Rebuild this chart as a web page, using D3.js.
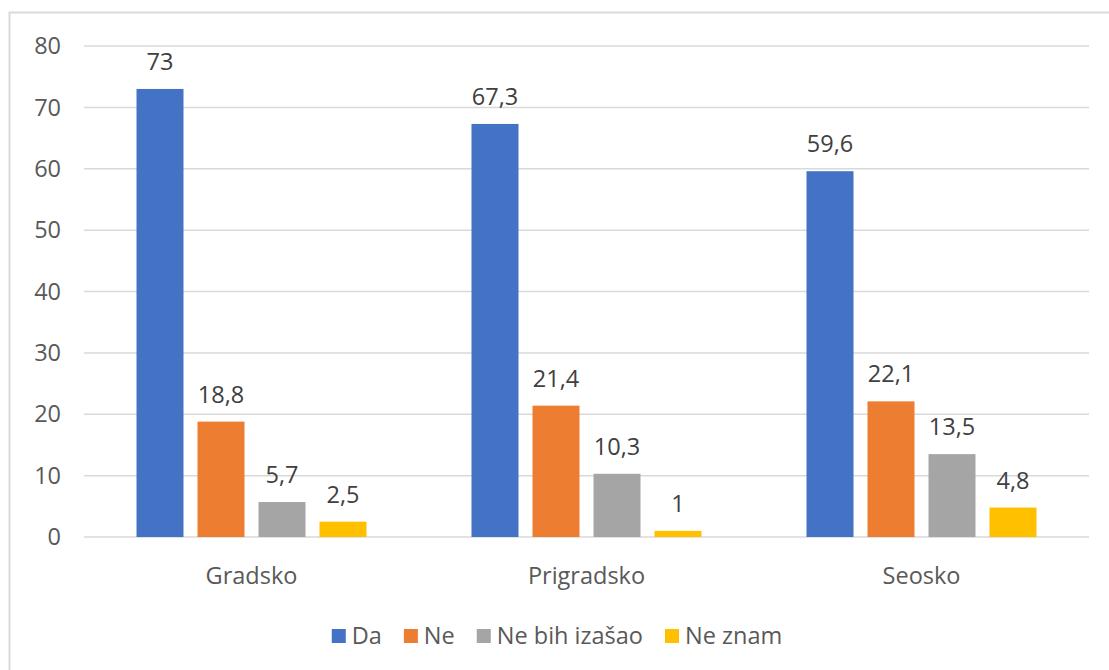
<!DOCTYPE html>
<html>
<head>
<meta charset="utf-8">
<script src="https://cdn.jsdelivr.net/npm/d3@7"></script>
<style>
  html, body { margin: 0; padding: 0; background: #fff; }
  svg { display: block; font-family: "Open Sans", "Noto Sans", sans-serif; }
</style>
</head>
<body>
<div id="chart"></div>
<script>
// Grouped bars: answers by settlement type (values in %).

const categories = ["Gradsko", "Prigradsko", "Seosko"];
const series = ["Da", "Ne", "Ne bih izašao", "Ne znam"];
const da = [73, 67.3, 59.6];
const ne = [18.8, 21.4, 22.1];
const neBih = [5.7, 10.3, 13.5];
const neZnam = [2.5, 1, 4.8];
const yTicks = [0, 10, 20, 30, 40, 50, 60, 70, 80];

const COLORS = ["#4472C4", "#ED7D31", "#A5A5A5", "#FFC000"];
const W = 1109, H = 670;
const PLOT = { left: 84, right: 1089, top: 46, bottom: 537 };
const FONT = "23.5px";

const values = [da, ne, neBih, neZnam];
const rows = categories.map((cat, i) => ({
  cat,
  vals: series.map((s, j) => ({ s, j, v: values[j][i] }))
}));

const svg = d3.select("#chart").append("svg")
  .attr("width", W).attr("height", H);

// outer chart frame (extends beyond the page on right/bottom)
svg.append("rect")
  .attr("x", 9.5).attr("y", 12.5)
  .attr("width", 1200).attr("height", 700)
  .attr("fill", "#fff")
  .attr("stroke", "#d9d9d9").attr("stroke-width", 2);

const y = d3.scaleLinear().domain([0, 80]).range([PLOT.bottom, PLOT.top]);
const x0 = d3.scaleBand().domain(categories).range([PLOT.left, PLOT.right]);
const groupW = 230;
const x1 = d3.scaleBand().domain(series)
  .range([(x0.bandwidth() - groupW) / 2, (x0.bandwidth() + groupW) / 2])
  .paddingInner(14 / 61);

// gridlines
svg.append("g").selectAll("line")
  .data(yTicks)
  .join("line")
  .attr("x1", PLOT.left).attr("x2", PLOT.right)
  .attr("y1", d => y(d)).attr("y2", d => y(d))
  .attr("stroke", "#d9d9d9").attr("stroke-width", 1.5);

// y axis labels
svg.append("g").selectAll("text")
  .data(yTicks)
  .join("text")
  .attr("x", 61).attr("y", d => y(d))
  .attr("dy", "0.35em")
  .attr("text-anchor", "end")
  .attr("fill", "#595959")
  .style("font-size", FONT)
  .text(d => d);

const groups = svg.append("g").selectAll("g")
  .data(rows)
  .join("g")
  .attr("transform", d => `translate(${x0(d.cat)},0)`);

groups.selectAll("rect")
  .data(d => d.vals)
  .join("rect")
  .attr("x", d => x1(d.s))
  .attr("width", x1.bandwidth())
  .attr("y", d => y(d.v))
  .attr("height", d => y(0) - y(d.v))
  .attr("fill", d => COLORS[d.j]);

groups.selectAll("text.val")
  .data(d => d.vals)
  .join("text")
  .attr("class", "val")
  .attr("x", d => x1(d.s) + x1.bandwidth() / 2)
  .attr("y", d => y(d.v) - 19)
  .attr("text-anchor", "middle")
  .attr("fill", "#404040")
  .style("font-size", FONT)
  .text(d => String(d.v).replace(".", ","));

// category labels
svg.append("g").selectAll("text")
  .data(categories)
  .join("text")
  .attr("x", d => x0(d) + x0.bandwidth() / 2)
  .attr("y", 584)
  .attr("text-anchor", "middle")
  .attr("fill", "#595959")
  .style("font-size", FONT)
  .text(d => d);

// legend, laid out from measured text widths and centered
const GAP = 22;
const legend = svg.append("g");
const items = legend.selectAll("g")
  .data(series)
  .join("g");
items.append("rect")
  .attr("y", 629).attr("width", 14).attr("height", 14)
  .attr("fill", (d, i) => COLORS[i]);
items.append("text")
  .attr("x", 20).attr("y", 636)
  .attr("dy", "0.35em")
  .attr("fill", "#595959")
  .style("font-size", FONT)
  .text(d => d);
let cx = 0;
const offsets = [];
items.each(function () {
  offsets.push(cx);
  cx += 20 + d3.select(this).select("text").node().getComputedTextLength() + GAP;
});
const total = cx - GAP;
const startX = 557 - total / 2;
items.attr("transform", (d, i) => `translate(${startX + offsets[i]},0)`);
</script>
</body>
</html>
